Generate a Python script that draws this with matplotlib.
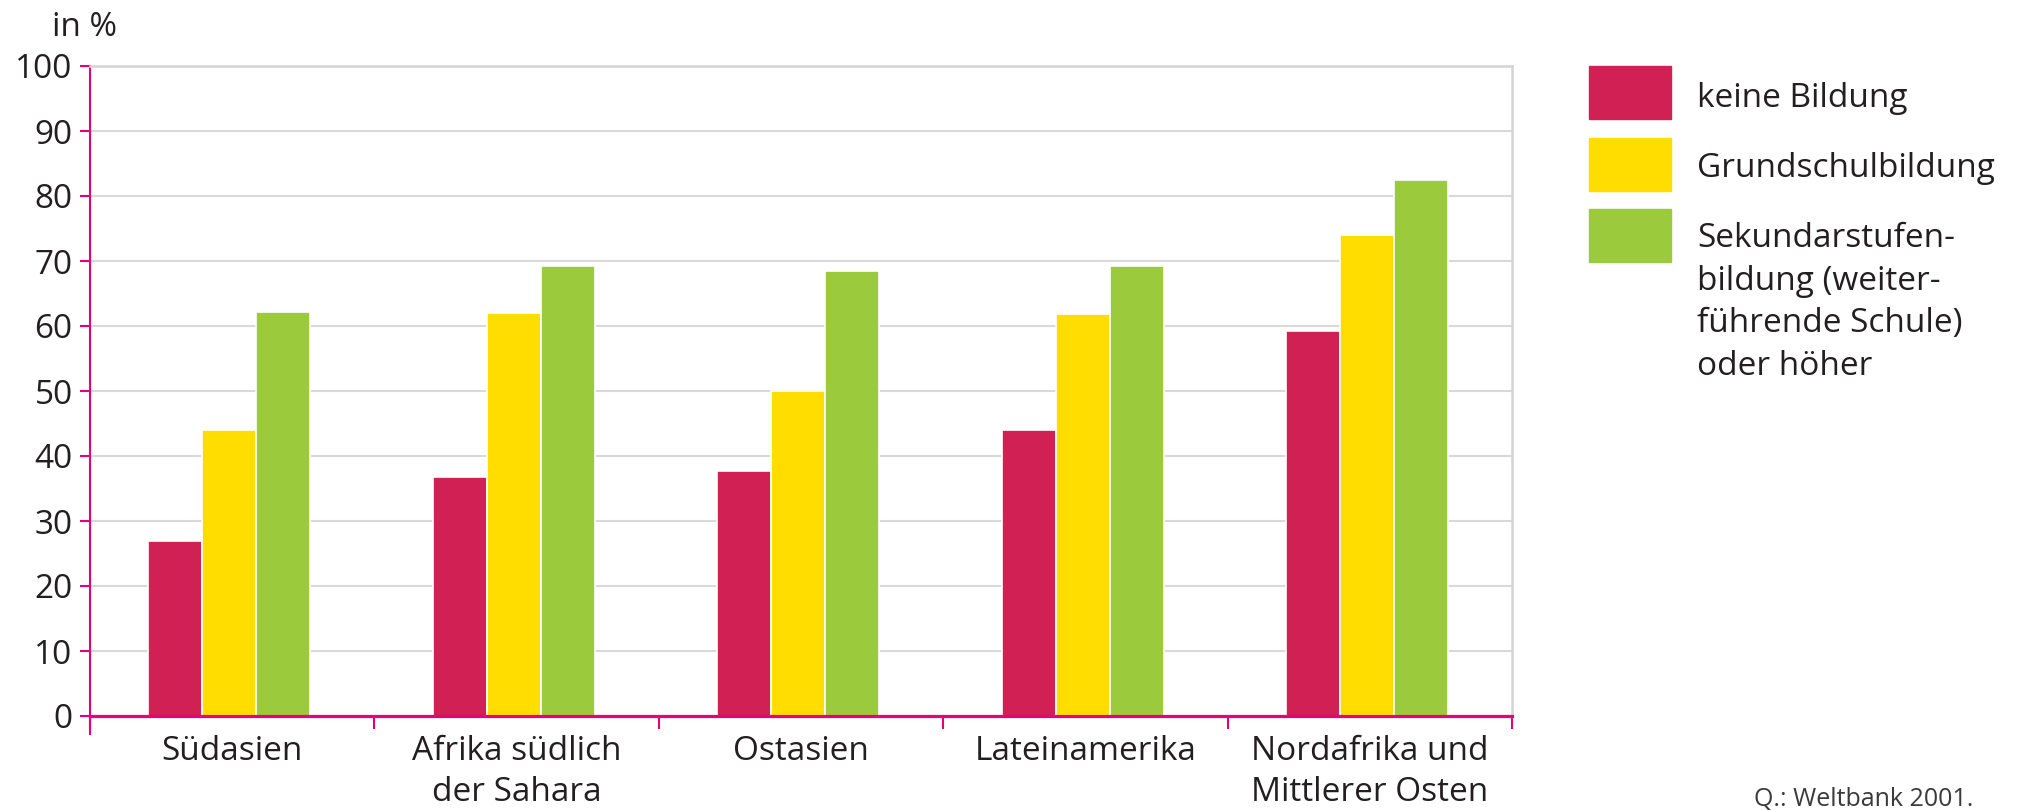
import matplotlib
matplotlib.use('Agg')
import matplotlib.pyplot as plt
from matplotlib.patches import Rectangle
import numpy as np

# data (Weltbank 2001)
regions = ['Südasien', 'Afrika südlich\nder Sahara', 'Ostasien',
           'Lateinamerika', 'Nordafrika und\nMittlerer Osten']
keine_bildung = [27.0, 36.8, 37.7, 44.0, 59.3]
grundschule = [44.0, 62.0, 50.0, 61.8, 74.0]
sekundar = [62.2, 69.3, 68.4, 69.3, 82.5]
series_labels = ['keine Bildung', 'Grundschulbildung',
                 'Sekundarstufen-\nbildung (weiter-\nführende Schule)\noder höher']
y_ticks = list(range(0, 101, 10))

RED = '#D12053'
YELLOW = '#FFDD00'
GREEN = '#9BCB3C'
PINK = '#E6007E'
GRID = '#D9D9D9'
TEXT = '#231F20'

plt.rcParams['font.family'] = ['Open Sans', 'DejaVu Sans']

W, H = 2025, 810
fig = plt.figure(figsize=(W / 100, H / 100), dpi=100)

# axes box in pixels: x 90-1512, y 66-716
ax = fig.add_axes([90 / W, 1 - 716 / H, (1512 - 90) / W, (716 - 66) / H])

x = np.arange(len(regions))
width = 0.19
colors = [RED, YELLOW, GREEN]
for i, vals in enumerate([keine_bildung, grundschule, sekundar]):
    ax.bar(x + (i - 1) * width - 0.01, vals, width, color=colors[i],
           edgecolor='white', linewidth=1.2, zorder=2)

ax.set_xlim(-0.5, len(regions) - 0.5)
ax.set_ylim(0, 100)
ax.set_yticks(y_ticks)
ax.set_yticklabels([str(t) for t in y_ticks])
ax.set_xticks(x)
ax.set_xticklabels(regions, linespacing=1.3)
ax.set_xticks(np.arange(-0.5, len(regions)), minor=True)

ax.tick_params(axis='y', colors=PINK, labelcolor=TEXT, labelsize=24,
               length=7.5, width=1.5, pad=5)
ax.tick_params(axis='x', which='major', length=0, labelsize=24,
               labelcolor=TEXT, pad=14)
ax.tick_params(axis='x', which='minor', length=9, width=1.5, color=PINK)

ax.grid(axis='y', color=GRID, linewidth=1.5, zorder=0)
ax.set_axisbelow(True)

ax.spines['left'].set_color(PINK)
ax.spines['left'].set_linewidth(1.5)
ax.spines['left'].set_bounds(-2.8, 100)
ax.spines['bottom'].set_color(PINK)
ax.spines['bottom'].set_linewidth(2.3)
ax.spines['bottom'].set_zorder(3)
for s in ['top', 'right']:
    ax.spines[s].set_color('#D4D4D4')
    ax.spines[s].set_linewidth(1.8)

# y axis unit
fig.text(52 / W, 1 - 36 / H, 'in %', fontsize=24, color=TEXT, va='baseline')

# legend drawn by hand, one text per line so baselines can be set
patch_tops = [66, 138, 209]
baselines = [107, 177, 247]
line_step = 42.7
for col, lab, top, base in zip(colors, series_labels, patch_tops, baselines):
    fig.add_artist(Rectangle((1589 / W, 1 - (top + 53) / H), 82 / W, 53 / H,
                             transform=fig.transFigure, color=col))
    for k, line in enumerate(lab.split('\n')):
        fig.text(1697 / W, 1 - (base + k * line_step) / H, line, fontsize=24,
                 color=TEXT, va='baseline', ha='left')

fig.text(1973 / W, 1 - 806 / H, 'Q.: Weltbank 2001.', fontsize=18,
         color='#3A3A3A', ha='right', va='baseline')

fig.savefig('out.png', dpi=100)
